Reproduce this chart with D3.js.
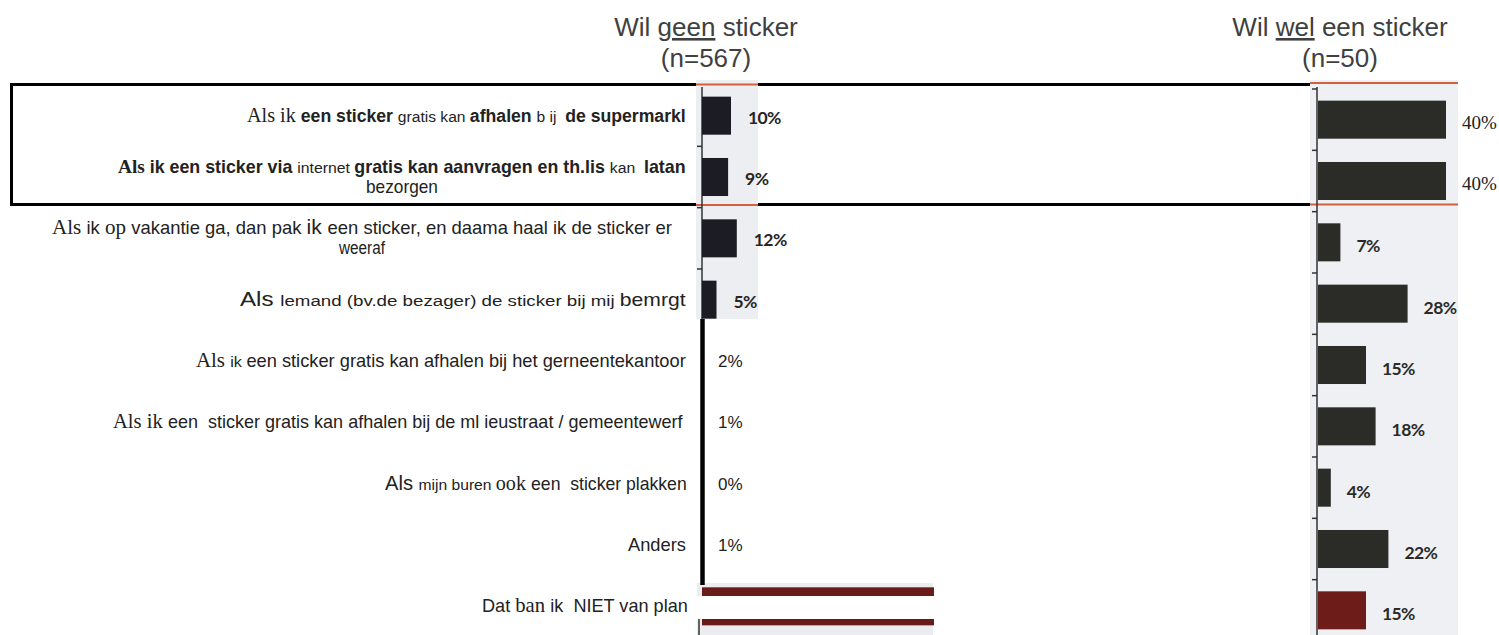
<!DOCTYPE html>
<html><head><meta charset="utf-8">
<script src="https://cdn.jsdelivr.net/npm/d3@7"></script>
<style>body{margin:0;background:#fff}svg{display:block}</style>
</head><body>
<svg id="chart" width="1499" height="635"></svg>
<script>
// ---------- data ----------
const categories = [
  "Als ik een sticker gratis kan afhalen b ij de supermarkl",
  "Als ik een sticker via internet gratis kan aanvragen en th.lis kan latan bezorgen",
  "Als ik op vakantie ga, dan pak ik een sticker, en daama haal ik de sticker er weeraf",
  "Als lemand (bv.de bezager) de sticker bij mij bemrgt",
  "Als ik een sticker gratis kan afhalen bij het gerneentekantoor",
  "Als ik een sticker gratis kan afhalen bij de ml ieustraat / gemeentewerf",
  "Als mijn buren ook een sticker plakken",
  "Anders",
  "Dat ban ik NIET van plan"
];
const geenValues = [10, 9, 12, 5, 2, 1, 0, 1, 80];
const welValues  = [40, 40, 7, 28, 15, 18, 4, 22, 15];
const geenLabels = ["10%", "9%", "12%", "5%", "2%", "1%", "0%", "1%", ""];
const welLabels  = ["40%", "40%", "7%", "28%", "15%", "18%", "4%", "22%", "15%"];
const geenTitle = [["Wil ", false], ["geen", true], [" sticker", false]];
const geenN = "(n=567)";
const welTitle = [["Wil ", false], ["wel", true], [" een sticker", false]];
const welN = "(n=50)";

// label text runs (mixed fonts as in the scanned source)
const labelRuns = [
  [[["Als ik ","S"],["een sticker ","B"],["gratis kan ","a"],["afhalen ","B"],["b ij  ","a"],["de supermarkl","B"]]],
  [[["Als ","SB"],["ik een sticker via ","B"],["internet ","a"],["gratis kan aanvragen en th.lis ","B"],["kan  ","a"],["latan","B"]],[["bezorgen","A"]]],
  [[["Als ","S"],["ik ","A"],["op ","S"],["vakantie ga, dan pak ","A"],["ik ","L"],["een sticker, en daama haal ik de sticker er","A"]],[["weeraf","A"]]],
  [[["Als ","L"],["lemand (bv.de bezager) de sticker bij mij ","a"],["bemrgt","A"]]],
  [[["Als ","S"],["ik ","a"],["een sticker gratis kan afhalen bij het gerneentekantoor","A"]]],
  [[["Als ik ","S"],["een  sticker gratis kan afhalen bij de ml ieustraat / gemeentewerf","A"]]],
  [[["Als ","L"],["mijn buren ","a"],["ook ","S"],["een  sticker plakken","A"]]],
  [[["Anders","A"]]],
  [[["Dat ","A"],["ban ","S"],["ik  NIET van plan","A"]]]
];

// ---------- styles / layout ----------
const runStyle = {
  S:  {f:"'Liberation Serif', serif", s:20, w:400},
  SB: {f:"'Liberation Serif', serif", s:19, w:700},
  A:  {f:"'Liberation Sans', Arial, sans-serif", s:17.5, w:400},
  a:  {f:"'Liberation Sans', Arial, sans-serif", s:15.5, w:400},
  L:  {f:"'Liberation Sans', Arial, sans-serif", s:20, w:400},
  B:  {f:"'Liberation Sans', Arial, sans-serif", s:17.5, w:700}
};
const labelLayout = [
  {right:686, w:[439]}, {right:686, w:[568,72]}, {right:672, w:[620,46]},
  {right:686, w:[446]}, {right:686, w:[490]}, {right:683, w:[570]},
  {right:687, w:[302]}, {right:686, w:[58]}, {right:688, w:[206]}
];

const svg = d3.select("#chart");

const yL = d3.scaleBand().domain(categories).range([85, 637]).paddingInner(0.38).paddingOuter(0.19);
const yR = d3.scaleBand().domain(categories).range([89, 641]).paddingInner(0.38).paddingOuter(0.19);
const xL = d3.scaleLinear().domain([0, 100]).range([702, 992]);
const xR = d3.scaleLinear().domain([0, 100]).range([1318, 1638]);

// ---------- titles ----------
function title(runs, n, cx) {
  const t = svg.append("text").attr("x", cx).attr("y", 36).attr("text-anchor", "middle")
    .attr("font-family", "'Liberation Sans', Arial, sans-serif").attr("font-size", 26).attr("fill", "#404040");
  runs.forEach(([txt, u]) => t.append("tspan").text(txt).attr("text-decoration", u ? "underline" : null));
  svg.append("text").attr("x", cx).attr("y", 67).attr("text-anchor", "middle")
    .attr("font-family", "'Liberation Sans', Arial, sans-serif").attr("font-size", 26).attr("fill", "#404040").text(n);
}
title(geenTitle, geenN, 706);
title(welTitle, welN, 1340);

// ---------- highlight box ----------
svg.append("rect").attr("x", 11.5).attr("y", 84.5).attr("width", 1300).attr("height", 120)
  .attr("fill", "none").attr("stroke", "#000").attr("stroke-width", 3);

// ---------- scanned backgrounds ----------
svg.append("rect").attr("x", 696).attr("y", 80).attr("width", 62).attr("height", 239).attr("fill", "#eceef1");
svg.append("rect").attr("x", 697).attr("y", 583).attr("width", 236).attr("height", 52).attr("fill", "#ebedf0");
svg.append("rect").attr("x", 1310).attr("y", 80).attr("width", 148).attr("height", 555).attr("fill", "#eef0f3");

[[696, 758, 84.5], [696, 758, 205], [1310, 1458, 83], [1310, 1458, 204.5]].forEach(([a, b, y]) =>
  svg.append("line").attr("x1", a).attr("x2", b).attr("y1", y).attr("y2", y)
    .attr("stroke", "#d0613d").attr("stroke-width", 2.2));

// ---------- axes ----------
svg.append("line").attr("x1", 702).attr("x2", 702).attr("y1", 87).attr("y2", 319).attr("stroke", "#333").attr("stroke-width", 1.5);
svg.append("line").attr("x1", 702.5).attr("x2", 702.5).attr("y1", 319).attr("y2", 585).attr("stroke", "#000").attr("stroke-width", 4.5);
svg.append("line").attr("x1", 699).attr("x2", 699).attr("y1", 619).attr("y2", 635).attr("stroke", "#333").attr("stroke-width", 1.5);
[1, 2, 3].forEach(i => {
  const y = yL.range()[0] + i * yL.step();
  svg.append("line").attr("x1", 697).attr("x2", 702).attr("y1", y).attr("y2", y).attr("stroke", "#333").attr("stroke-width", 1.5);
});
svg.append("line").attr("x1", 1317).attr("x2", 1317).attr("y1", 87).attr("y2", 635).attr("stroke", "#333").attr("stroke-width", 1.5);
d3.range(0, 9).forEach(i => {
  const y = yR.range()[0] + i * yR.step();
  svg.append("line").attr("x1", 1312).attr("x2", 1317).attr("y1", y).attr("y2", y).attr("stroke", "#333").attr("stroke-width", 1.5);
});

// ---------- bars ----------
const shownGeen = categories.map((c, i) => i < 4 || i === 8);
svg.append("g").selectAll("rect").data(categories.filter((c, i) => shownGeen[i])).join("rect")
  .attr("x", xL(0)).attr("y", c => yL(c))
  .attr("width", c => xL(geenValues[categories.indexOf(c)]) - xL(0))
  .attr("height", yL.bandwidth())
  .attr("fill", c => categories.indexOf(c) === 8 ? "#6b1a1a" : "#1c1c24");

svg.append("g").selectAll("rect").data(categories).join("rect")
  .attr("x", xR(0)).attr("y", c => yR(c))
  .attr("width", (c, i) => xR(welValues[i]) - xR(0))
  .attr("height", yR.bandwidth())
  .attr("fill", (c, i) => i === 8 ? "#6e1c1a" : "#2b2c28");

// white cover over the last left bar (label pasted over it)
svg.append("rect").attr("x", 600).attr("y", 596).attr("width", 345).attr("height", 23).attr("fill", "#fff");

// ---------- value labels ----------
svg.append("g").selectAll("text").data(categories).join("text")
  .attr("x", (c, i) => i < 4 ? xL(geenValues[i]) + 17 : 718)
  .attr("y", (c, i) => yL(c) + yL.bandwidth() / 2 + (i < 4 ? 8 : 6))
  .attr("font-family", (c, i) => i < 4 ? "Lato, sans-serif" : "'Liberation Sans', Arial, sans-serif")
  .attr("font-weight", (c, i) => i < 4 ? 700 : 400)
  .attr("font-size", (c, i) => i < 4 ? 17.5 : 17)
  .attr("letter-spacing", (c, i) => i < 4 ? -0.6 : 0)
  .attr("fill", (c, i) => i < 4 ? "#262626" : "#222")
  .text((c, i) => geenLabels[i]);

svg.append("g").selectAll("text").data(categories).join("text")
  .attr("x", (c, i) => xR(welValues[i]) + 16)
  .attr("y", (c, i) => yR(c) + yR.bandwidth() / 2 + (i < 2 ? 9 : 10))
  .attr("font-family", (c, i) => i < 2 ? "'Liberation Serif', serif" : "Lato, sans-serif")
  .attr("font-weight", (c, i) => i < 2 ? 400 : 700)
  .attr("font-size", (c, i) => i < 2 ? 19 : 17.5)
  .attr("letter-spacing", (c, i) => i < 2 ? 0 : -0.6)
  .attr("fill", (c, i) => i < 2 ? "#222" : "#2a2a2a")
  .text((c, i) => welLabels[i]);

// ---------- category labels ----------
categories.forEach((c, i) => {
  const lines = labelRuns[i];
  const lay = labelLayout[i];
  const cy = yL(c) + yL.bandwidth() / 2;
  let center = null;
  lines.forEach((runs, li) => {
    const yc = lines.length === 1 ? cy : cy + (li === 0 ? -10 : 10);
    const g = svg.append("g");
    const t = g.append("text").attr("x", 0).attr("y", 0).attr("fill", "#222");
    runs.forEach(([txt, st]) => {
      const s = runStyle[st];
      t.append("tspan").text(txt).attr("font-family", s.f).attr("font-size", s.s).attr("font-weight", s.w)
        .style("white-space", "pre");
    });
    const w0 = t.node().getComputedTextLength();
    const target = lay.w[li];
    const sx = target / w0;
    let x0;
    if (li === 0) { x0 = lay.right - target; center = lay.right - target / 2; }
    else { x0 = center - target / 2; }
    g.attr("transform", `translate(${x0},${yc + 6}) scale(${sx},1)`);
  });
});
</script>
</body></html>
